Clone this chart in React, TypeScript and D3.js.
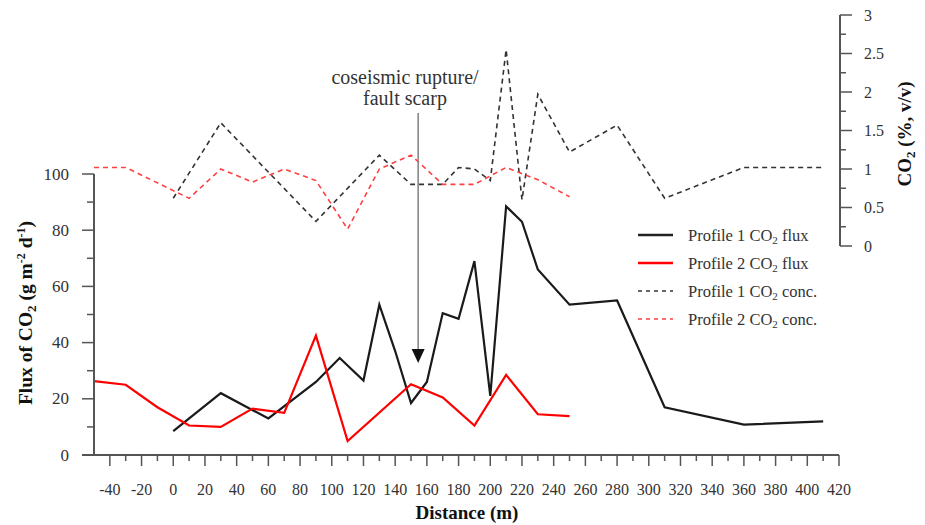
import React from "react";
import * as d3 from "d3";

// Distance along profile (m) and CO2 flux (g m-2 d-1)
const p1FluxDist = [0, 30, 60, 90, 105, 120, 130, 140, 150, 160, 170, 180, 190, 200, 210, 220, 230, 250, 280, 310, 360, 410];
const p1FluxVal = [8.5, 22, 13, 26, 34.5, 26.5, 53.5, 37, 18.5, 26, 50.5, 48.5, 69, 21, 88.5, 83, 66, 53.5, 55, 17, 10.8, 12];

const p2FluxDist = [-50, -30, -10, 10, 30, 50, 70, 90, 110, 150, 170, 190, 210, 230, 250];
const p2FluxVal = [26.3, 25, 17, 10.5, 10, 16.5, 15, 42.5, 5, 25.2, 20.5, 10.5, 28.5, 14.5, 13.8];

// Soil CO2 concentration (%, v/v)
const p1ConcDist = [0, 30, 90, 130, 150, 170, 180, 190, 200, 210, 220, 230, 250, 280, 310, 360, 410];
const p1ConcVal = [0.62, 1.6, 0.32, 1.18, 0.8, 0.8, 1.02, 1.0, 0.85, 2.55, 0.6, 1.97, 1.22, 1.57, 0.62, 1.02, 1.02];

const p2ConcDist = [-50, -30, 10, 30, 50, 70, 90, 110, 130, 150, 170, 190, 210, 230, 250];
const p2ConcVal = [1.02, 1.02, 0.62, 1.0, 0.83, 1.0, 0.85, 0.22, 1.0, 1.18, 0.8, 0.8, 1.02, 0.86, 0.64];

const xTicks = d3.range(-40, 421, 20);
const xMinor = d3.range(-40, 421, 10);
const yLeftTicks = d3.range(0, 101, 20);
const yLeftMinor = d3.range(0, 101, 10);
const yRightTicks = [0, 0.5, 1, 1.5, 2, 2.5, 3];
const yRightMinor = d3.range(0, 3.01, 0.25);

const ruptureAt = 154.5;

const FONT = "'Liberation Serif', 'Times New Roman', serif";
const AXIS = "#555";
const TXT = "#333";

export default function App() {
  const x = d3.scaleLinear().domain([-50, 420]).range([94, 839]);
  const yL = d3.scaleLinear().domain([0, 100]).range([455, 174]);
  const yR = d3.scaleLinear().domain([0, 3]).range([246, 15]);

  const lineL = (ds: number[], vs: number[]) =>
    d3.line<number>().x((_, i) => x(ds[i])).y((v) => yL(v))(vs) || "";
  const lineR = (ds: number[], vs: number[]) =>
    d3.line<number>().x((_, i) => x(ds[i])).y((v) => yR(v))(vs) || "";

  const x0 = x(-50);
  const x1 = x(420);
  const yb = yL(0);

  const legend = [
    { label: "flux", n: "1", color: "#222", dash: undefined },
    { label: "flux", n: "2", color: "#ff0000", dash: undefined },
    { label: "conc.", n: "1", color: "#333", dash: "4,4" },
    { label: "conc.", n: "2", color: "#ff4040", dash: "4,4" },
  ];
  const legY = [235, 263, 291, 319];

  const ax = x(ruptureAt);

  return (
    <svg
      width={925}
      height={525}
      style={{ position: "absolute", left: 0, top: 0, background: "#fff" }}
      fontFamily={FONT}
    >
      {/* data series */}
      <path d={lineR(p1ConcDist, p1ConcVal)} fill="none" stroke="#333" strokeWidth={1.6} strokeDasharray="5,4" />
      <path d={lineR(p2ConcDist, p2ConcVal)} fill="none" stroke="#ff4040" strokeWidth={1.6} strokeDasharray="5,4" />
      <path d={lineL(p1FluxDist, p1FluxVal)} fill="none" stroke="#1a1a1a" strokeWidth={2.2} />
      <path d={lineL(p2FluxDist, p2FluxVal)} fill="none" stroke="#ff0000" strokeWidth={2.2} />

      {/* rupture annotation */}
      <line x1={ax} x2={ax} y1={113} y2={352} stroke="#888" strokeWidth={1.6} />
      <path d={`M${ax - 6.5},${349} L${ax + 6.5},${349} L${ax},${363} Z`} fill="#111" />
      <text x={405} y={84} textAnchor="middle" fontSize={20} fill={TXT}>coseismic rupture/</text>
      <text x={405} y={105} textAnchor="middle" fontSize={20} fill={TXT}>fault scarp</text>

      {/* bottom axis */}
      <line x1={x0 - 12} x2={x1} y1={yb} y2={yb} stroke={AXIS} strokeWidth={2} />
      {xMinor.map((t) => (
        <line key={"xm" + t} x1={x(t)} x2={x(t)} y1={yb} y2={yb + (t % 20 === 0 ? 11 : 6)} stroke={AXIS} strokeWidth={1.5} />
      ))}
      {xTicks.map((t) => (
        <text key={"xt" + t} x={x(t)} y={495} textAnchor="middle" fontSize={16} fill={TXT}>{t}</text>
      ))}
      <text x={467} y={519} textAnchor="middle" fontSize={19} fontWeight="bold" fill="#111">Distance (m)</text>

      {/* left axis */}
      <line x1={x0} x2={x0} y1={yL(100)} y2={yb} stroke={AXIS} strokeWidth={2} />
      {yLeftMinor.map((t) => (
        <line key={"ylm" + t} x1={x0 - (t % 20 === 0 ? 12 : 7)} x2={x0} y1={yL(t)} y2={yL(t)} stroke={AXIS} strokeWidth={1.5} />
      ))}
      {yLeftTicks.map((t) => (
        <text key={"ylt" + t} x={69} y={yL(t) + 5.5} textAnchor="end" fontSize={17} fill={TXT}>{t}</text>
      ))}
      <text transform={`translate(32,313) rotate(-90)`} textAnchor="middle" fontSize={19.5} fontWeight="bold" fill="#111">
        Flux of CO<tspan fontSize={13} dy={4}>2</tspan>
        <tspan dy={-4}> (g m</tspan>
        <tspan fontSize={12} dy={-7}>-2</tspan>
        <tspan dy={7}> d</tspan>
        <tspan fontSize={12} dy={-7}>-1</tspan>
        <tspan dy={7}>)</tspan>
      </text>

      {/* right axis */}
      <line x1={x1 + 1} x2={x1 + 1} y1={yR(3)} y2={yR(0)} stroke={AXIS} strokeWidth={2} />
      {yRightMinor.map((t) => (
        <line key={"yrm" + t} x1={x1 + 1} x2={x1 + 1 + (Math.abs(t * 2 - Math.round(t * 2)) < 1e-6 ? 12 : 6)} y1={yR(t)} y2={yR(t)} stroke={AXIS} strokeWidth={1.5} />
      ))}
      {yRightTicks.map((t) => (
        <text key={"yrt" + t} x={864} y={yR(t) + 5.5} textAnchor="start" fontSize={16} fill={TXT}>{t}</text>
      ))}
      <text transform={`translate(911,134) rotate(-90)`} textAnchor="middle" fontSize={19} fontWeight="bold" fill="#111">
        CO<tspan fontSize={13} dy={4}>2</tspan>
        <tspan dy={-4}> (%, v/v)</tspan>
      </text>

      {/* legend */}
      {legend.map((l, i) => (
        <g key={"lg" + i}>
          <line x1={638} x2={673} y1={legY[i]} y2={legY[i]} stroke={l.color} strokeWidth={l.dash ? 1.6 : 2.5} strokeDasharray={l.dash} />
          <text x={688} y={legY[i] + 5.5} fontSize={16.5} fill={TXT}>
            Profile {l.n} CO<tspan fontSize={11} dy={3.5}>2</tspan>
            <tspan dy={-3.5}> {l.label}</tspan>
          </text>
        </g>
      ))}
    </svg>
  );
}
